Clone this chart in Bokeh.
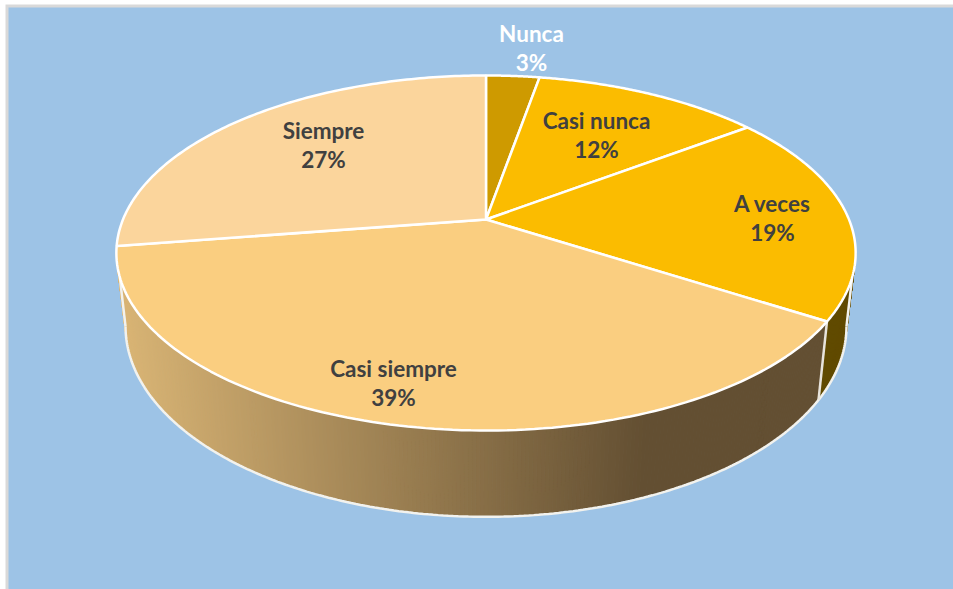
import numpy as np
from bokeh.plotting import figure
from bokeh.embed import file_html
from bokeh.resources import INLINE
from bokeh.core.properties import value

# ---- data ----
categories = ["Nunca", "Casi nunca", "A veces", "Casi siempre", "Siempre"]
shares = [2.8, 12.0, 19.2, 38.6, 27.4]
percent_labels = ["3%", "12%", "19%", "39%", "27%"]
slice_colors = ["#CE9A00", "#FBBC00", "#FBBC00", "#FACE80", "#FBD59C"]
label_colors = ["#FFFFFF", "#404040", "#404040", "#404040", "#404040"]

# ---- layout (pixel-like data space) ----
W, H = 953, 589
BG = "#9DC3E6"
CX, CY = 485.5, 219.0
C = 0.1887
TOP = dict(R=363.0, A=171.2, y0=CY)
BASE = dict(R=354.0, A=183.6, y0=290.0)
label_x = [531, 596, 772, 393, 323]
label_y = [32.5, 119.5, 202.5, 367.5, 129.5]
LINE_GAP = 29.5
BASE_EXTREME = 100.9   # degrees from 12 o'clock where the base ellipse is widest
TOP_TANGENT = 108.5    # where the wall's silhouette leaves the top ellipse


def proj(theta, g):
    """theta in radians, clockwise from 12 o'clock."""
    u, v = np.sin(theta), np.cos(theta)
    d = 1 + C * v
    return CX + g["R"] * u / d, g["y0"] - g["A"] * v / d


def rgb(c):
    return "#%02X%02X%02X" % tuple(int(round(x)) for x in c)


p = figure(width=W, height=H, x_range=(0, W), y_range=(H, 0),
           output_backend="svg", toolbar_location=None, min_border=0,
           background_fill_color="#FFFFFF", border_fill_color="#FFFFFF", outline_line_color=None)
p.axis.visible = False
p.grid.visible = False

# frame: grey edge and blue chart area
p.quad(left=[5], right=[W], top=[4], bottom=[H], fill_color="#D9D9D9", line_color=None)
p.quad(left=[8], right=[W], top=[7], bottom=[H], fill_color=BG, line_color=None)

edges = np.cumsum([0.0] + shares) / sum(shares) * 2 * np.pi
R_A = np.radians(BASE_EXTREME)
L_A = 2 * np.pi - R_A
R_T = np.radians(TOP_TANGENT)
L_T = 2 * np.pi - R_T

LIGHT, DARK = (218, 181, 117), (99, 79, 50)
WALL_DARK = "#604A00"
EDGE = "#F2F2EE"

# silhouette slivers between the two ellipses, left and right
slivers = ((R_T, R_A, R_T + 0.2, WALL_DARK), (L_T, L_A, L_T - 0.2, rgb(LIGHT)))
for tang, ext, inner, col in slivers:
    x1, y1 = proj(tang, TOP); x2, y2 = proj(ext, BASE); x3, y3 = proj(inner, BASE)
    x0, y0 = proj(ext, TOP)
    p.patch([x0, x1, x2, x3], [y0, y1, y2, y3], fill_color=col, line_color=col, line_width=1)

# side wall, split in thin quads for the shading
th = np.linspace(R_A, L_A, 300)
xs, ys, cols = [], [], []
for a, b in zip(th[:-1], th[1:]):
    x1, y1 = proj(a, TOP); x2, y2 = proj(b, TOP)
    x3, y3 = proj(b, BASE); x4, y4 = proj(a, BASE)
    xs.append([x1, x2, x3, x4]); ys.append([y1, y2, y3, y4])
    if (a + b) / 2 < edges[3]:
        cols.append(WALL_DARK)
    else:
        t = np.clip(((x3 + x4) / 2 - 125) / (640 - 125), 0, 1)
        cols.append(rgb(np.array(LIGHT) + t * (np.array(DARK) - np.array(LIGHT))))
p.patches(xs, ys, fill_color=cols, line_color=cols, line_width=1)

# wall outline and slice seam
for tang, ext, inner, col in slivers:
    x1, y1 = proj(tang, TOP); x2, y2 = proj(ext, BASE)
    p.line([x1, x2], [y1, y2], line_color=EDGE, line_width=2.5)
arc = np.linspace(R_A, L_A, 240)
bx, by = proj(arc, BASE)
p.line(bx, by, line_color=EDGE, line_width=2.5)
sx0, sy0 = proj(edges[3], TOP)
sx1, sy1 = proj(edges[3], BASE)
p.line([sx0, sx1], [sy0, sy1], line_color="#E8E4DC", line_width=2.5)

# top face
for i, col in enumerate(slice_colors):
    t = np.linspace(edges[i], edges[i + 1], 120)
    x, y = proj(t, TOP)
    p.patch(np.r_[CX, x], np.r_[CY, y], fill_color=col, line_color="#FFFFFF", line_width=2.5)

# labels
for name, pct, lx, ly, c in zip(categories, percent_labels, label_x, label_y, label_colors):
    for txt, yy in ((name, ly), (pct, ly + LINE_GAP)):
        p.text([lx], [yy], text=[txt], text_color=c, text_align="center", text_baseline="middle",
               text_font=value("Lato"), text_font_style="bold", text_font_size="22.5px")

open("out.html", "w").write(file_html(p, INLINE))
